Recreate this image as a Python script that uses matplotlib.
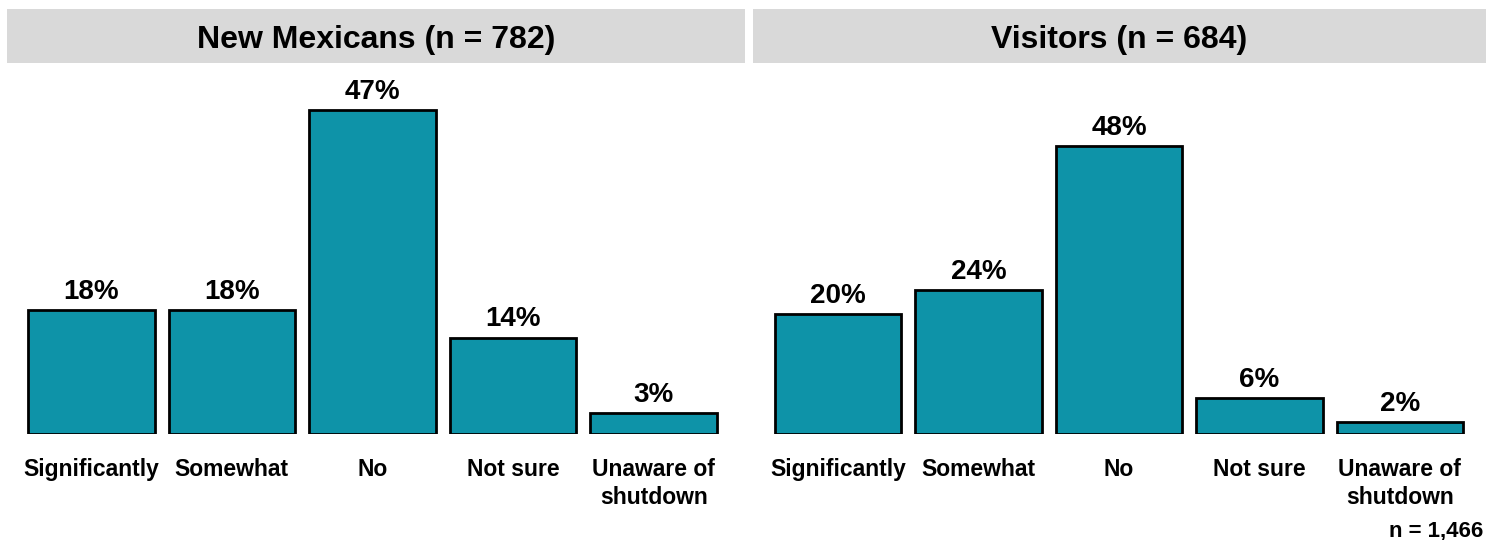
import matplotlib
matplotlib.use("Agg")
import matplotlib.pyplot as plt
from matplotlib.patches import Rectangle

plt.rcParams['font.family'] = ['Liberation Sans', 'DejaVu Sans']
plt.rcParams['font.weight'] = 'bold'

categories = ["Significantly", "Somewhat", "No", "Not sure", "Unaware of\nshutdown"]
nm_values = [18, 18, 47, 14, 3]
vis_values = [20, 24, 48, 6, 2]
titles = ["New Mexicans (n = 782)", "Visitors (n = 684)"]
note = "n = 1,466"

W, H = 1486, 540
fig = plt.figure(figsize=(W / 100, H / 100), dpi=100)

BAR = "#0E93A8"
GRAY = "#D9D9D9"

def fx(px):
    return px / W

def fy(py):
    return 1 - py / H

panels = [
    dict(vals=nm_values, ax_left=21, ax_right=724, ymax=48.5, hdr=(7, 745), title=titles[0]),
    dict(vals=vis_values, ax_left=768, ax_right=1470, ymax=55.7, hdr=(753, 1486), title=titles[1]),
]

base_y, top_y = 434, 100
for p in panels:
    # header strip
    hx0, hx1 = p["hdr"]
    fig.patches.append(Rectangle((fx(hx0), fy(63)), fx(hx1 - hx0), (63 - 9) / H,
                                 transform=fig.transFigure, facecolor=GRAY, edgecolor='none', zorder=0))
    fig.text(fx((hx0 + hx1) / 2), fy(48), p["title"], ha='center', va='baseline',
             fontsize=23, fontweight='bold', color='black')

    ax = fig.add_axes([fx(p["ax_left"]), fy(base_y), fx(p["ax_right"] - p["ax_left"]), (base_y - top_y) / H])
    x = list(range(len(categories)))
    ax.bar(x, p["vals"], width=0.9, color=BAR, edgecolor='black', linewidth=2)
    ax.set_xlim(-0.5, len(categories) - 0.5)
    ax.set_ylim(0, p["ymax"])
    for xi, v in zip(x, p["vals"]):
        ax.annotate(f"{v}%", (xi, v), xytext=(0, 8), textcoords='offset points',
                    ha='center', va='baseline', fontsize=20, fontweight='bold')
    ax.set_xticks(x)
    ax.set_xticklabels(categories, fontsize=16.5, fontweight='bold', linespacing=1.25)
    ax.tick_params(axis='x', length=0, pad=17.5)
    ax.set_yticks([])
    for s in ax.spines.values():
        s.set_visible(False)
    ax.patch.set_alpha(0)

fig.text(fx(1483), fy(536), note, ha='right', va='baseline', fontsize=16, fontweight='bold')

fig.savefig("out.png", dpi=100)
